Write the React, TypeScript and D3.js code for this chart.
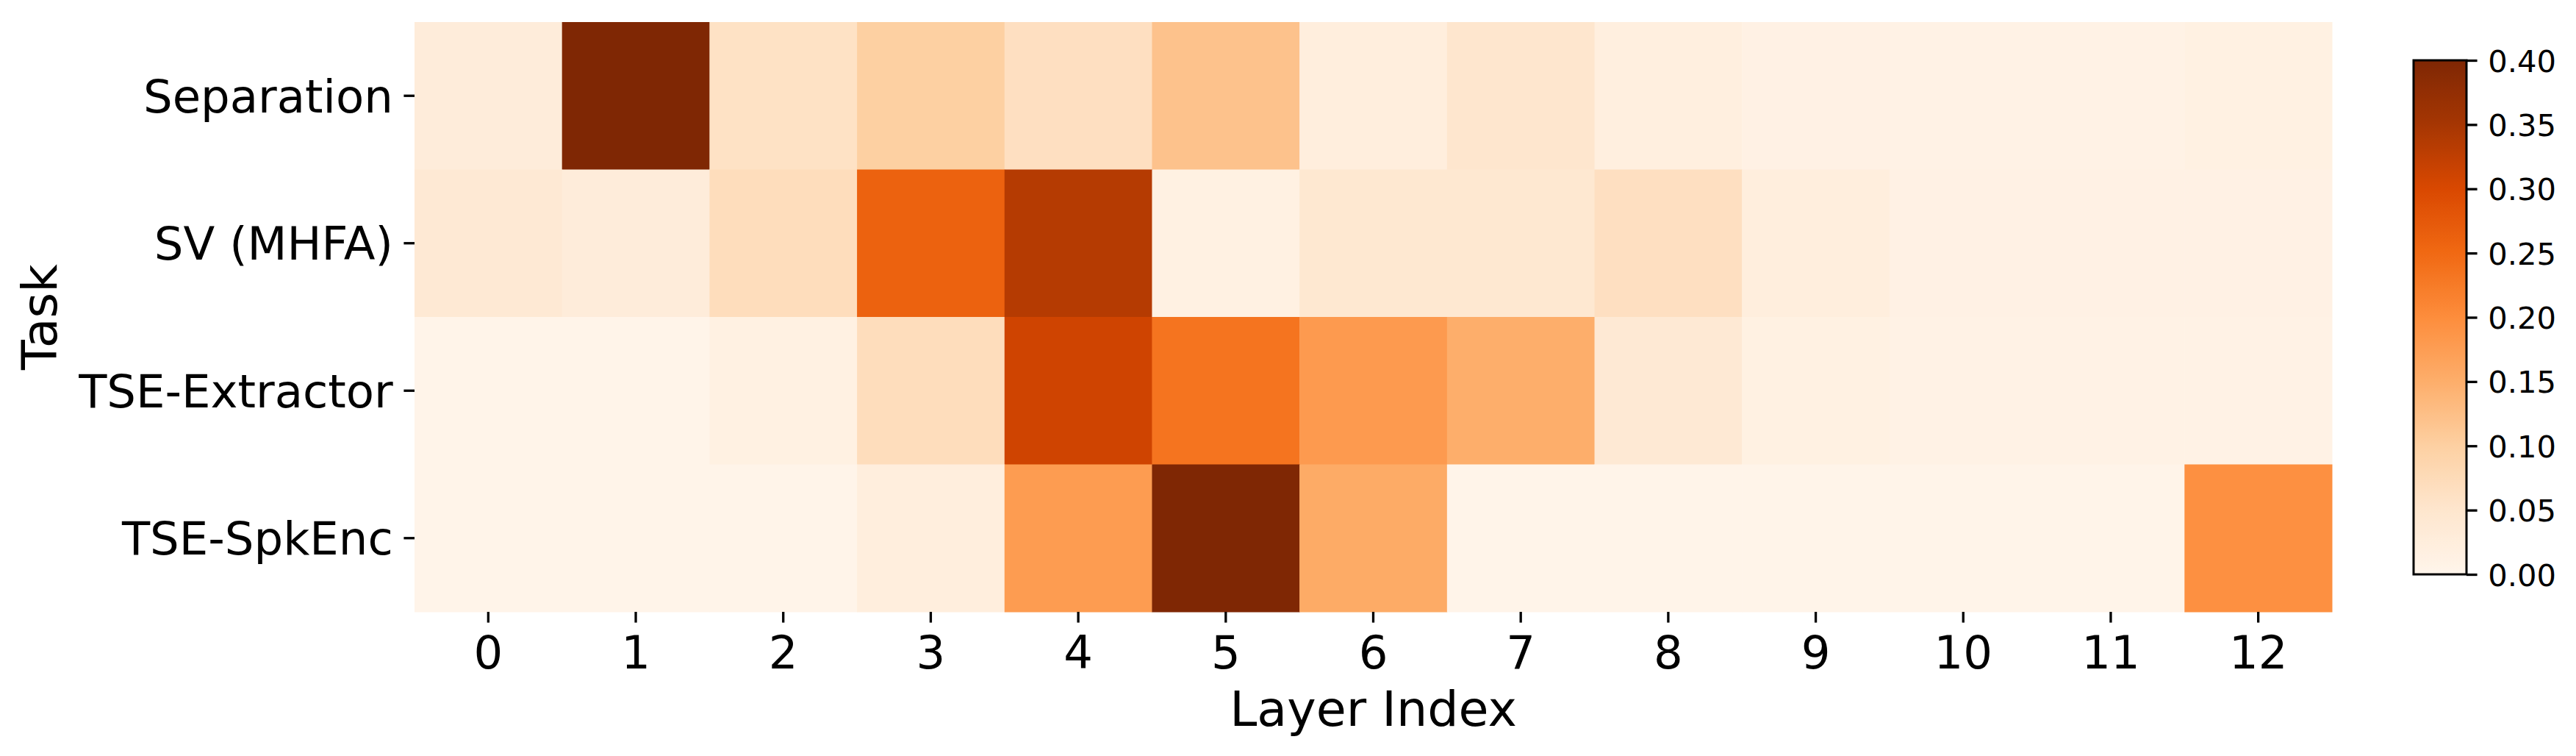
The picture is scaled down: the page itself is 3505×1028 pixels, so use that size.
import React, { useRef, useEffect } from 'react';
import * as d3 from 'd3';

const tasks = ['Separation', 'SV (MHFA)', 'TSE-Extractor', 'TSE-SpkEnc'];
const layers = ['0', '1', '2', '3', '4', '5', '6', '7', '8', '9', '10', '11', '12'];

const separation = [0.03, 0.40, 0.06, 0.10, 0.065, 0.12, 0.025, 0.05, 0.02, 0.012, 0.01, 0.01, 0.015];
const svMhfa = [0.04, 0.03, 0.07, 0.26, 0.335, 0.015, 0.045, 0.045, 0.065, 0.025, 0.012, 0.012, 0.012];
const tseExtractor = [0.004, 0.004, 0.015, 0.07, 0.31, 0.235, 0.18, 0.15, 0.04, 0.015, 0.01, 0.01, 0.01];
const tseSpkEnc = [0.004, 0.004, 0.004, 0.025, 0.178, 0.40, 0.155, 0.004, 0.004, 0.004, 0.004, 0.004, 0.195];

const rows = [separation, svMhfa, tseExtractor, tseSpkEnc];
const cbarTicks = [0, 0.05, 0.1, 0.15, 0.2, 0.25, 0.3, 0.35, 0.4];

// matplotlib "Oranges" (linear between the 9 brewer colours)
const orangesColors = ['#fff5eb', '#fee6ce', '#fdd0a2', '#fdae6b', '#fd8d3c', '#f16913', '#d94801', '#a63603', '#7f2704'];

const W = 3505;
const H = 1028;
const FONT = 'DejaVu Sans, sans-serif';

const Heatmap = () => {
    const svgRef = useRef(null);

    useEffect(() => {
        const svg = d3.select(svgRef.current);
        svg.selectAll('*').remove();

        const left = 564, right = 3173, top = 30, bottom = 832;

        const x = d3.scaleBand().domain(layers).range([left, right]);
        const y = d3.scaleBand().domain(tasks).range([top, bottom]);

        const vmax = 0.4;
        const color = d3.scaleLinear()
            .domain(orangesColors.map((_, i) => (i / (orangesColors.length - 1)) * vmax))
            .range(orangesColors)
            .interpolate(d3.interpolateRgb)
            .clamp(true);

        const cells = [];
        rows.forEach((vals, r) => vals.forEach((v, c) => cells.push({ task: tasks[r], layer: layers[c], v })));

        svg.append('g').selectAll('rect')
            .data(cells)
            .enter().append('rect')
            .attr('x', d => x(d.layer))
            .attr('y', d => y(d.task))
            .attr('width', x.bandwidth() + 0.5)
            .attr('height', y.bandwidth() + 0.5)
            .attr('fill', d => color(d.v));

        const tickLen = 14.6;
        const tickPad = 14.6;

        // x axis
        const xAxis = svg.append('g')
            .attr('transform', `translate(0,${bottom})`)
            .call(d3.axisBottom(x).tickSize(tickLen).tickSizeOuter(0).tickPadding(tickPad));
        xAxis.select('.domain').remove();
        xAxis.selectAll('line').attr('stroke', '#000').attr('stroke-width', 3.3);
        xAxis.selectAll('text')
            .attr('font-family', FONT)
            .attr('font-size', 62.5)
            .attr('fill', '#000')
            .attr('dy', null)
            .attr('y', 909 - bottom);

        // y axis
        const yAxis = svg.append('g')
            .attr('transform', `translate(${left},0)`)
            .call(d3.axisLeft(y).tickSize(tickLen).tickSizeOuter(0).tickPadding(tickPad));
        yAxis.select('.domain').remove();
        yAxis.selectAll('line').attr('stroke', '#000').attr('stroke-width', 3.3);
        yAxis.selectAll('text')
            .attr('font-family', FONT)
            .attr('font-size', 62.5)
            .attr('fill', '#000')
            .attr('dy', '0.36em');

        // axis titles
        svg.append('text')
            .attr('x', (left + right) / 2)
            .attr('y', 987)
            .attr('text-anchor', 'middle')
            .attr('font-family', FONT)
            .attr('font-size', 66.7)
            .text('Layer Index');

        svg.append('text')
            .attr('transform', `translate(77,${(top + bottom) / 2}) rotate(-90)`)
            .attr('text-anchor', 'middle')
            .attr('font-family', FONT)
            .attr('font-size', 66.7)
            .text('Task');

        // colorbar
        const cbX = 3284, cbW = 72, cbTop = 82, cbBottom = 781;
        const cy = d3.scaleLinear().domain([0, vmax]).range([cbBottom, cbTop]);

        const grad = svg.append('defs').append('linearGradient')
            .attr('id', 'cbar-grad')
            .attr('x1', 0).attr('y1', 1).attr('x2', 0).attr('y2', 0);
        d3.range(0, 101).forEach(i => {
            grad.append('stop')
                .attr('offset', `${i}%`)
                .attr('stop-color', color((i / 100) * vmax));
        });

        svg.append('rect')
            .attr('x', cbX).attr('y', cbTop)
            .attr('width', cbW).attr('height', cbBottom - cbTop)
            .attr('fill', 'url(#cbar-grad)')
            .attr('stroke', '#000')
            .attr('stroke-width', 3);

        const cAxis = svg.append('g')
            .attr('transform', `translate(${cbX + cbW},0)`)
            .call(d3.axisRight(cy).tickValues(cbarTicks).tickFormat(d3.format('.2f'))
                .tickSize(tickLen).tickSizeOuter(0).tickPadding(tickPad));
        cAxis.select('.domain').remove();
        cAxis.selectAll('line').attr('stroke', '#000').attr('stroke-width', 3.3);
        cAxis.selectAll('text')
            .attr('font-family', FONT)
            .attr('font-size', 41.7)
            .attr('fill', '#000')
            .attr('dy', '0.36em');
    }, []);

    return <svg ref={svgRef} width={W} height={H} style={{ position: 'absolute', left: 0, top: 0, background: '#fff' }}></svg>;
};

export default function App() {
    return <Heatmap />;
}
